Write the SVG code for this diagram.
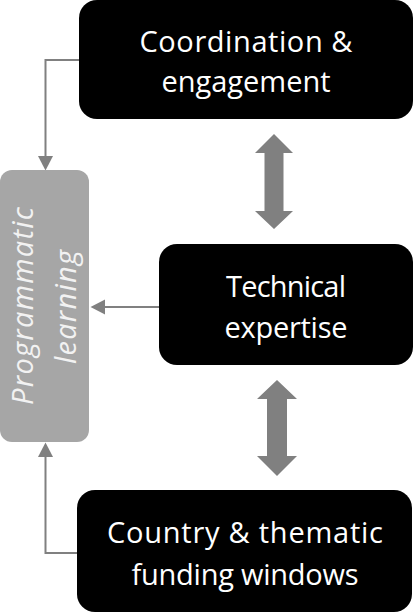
<svg xmlns="http://www.w3.org/2000/svg" width="416" height="614" viewBox="0 0 416 614">
<style>
.box{fill:#000000}
.side{fill:#a6a6a6}
.t{font-family:"Open Sans","Liberation Sans",sans-serif;font-size:29px;fill:#ffffff;text-anchor:middle}
.ti{font-family:"Open Sans","Liberation Sans",sans-serif;font-size:29px;font-style:italic;fill:#f2f2f2;text-anchor:middle}
.conn{fill:none;stroke:#808080;stroke-width:2}
.dbl{fill:#808080}
</style>
<defs>
<marker id="ah" markerUnits="userSpaceOnUse" markerWidth="16" markerHeight="16" refX="0" refY="7.5" orient="auto" viewBox="0 0 16 15">
<path d="M0,0 L14.5,7.5 L0,15 z" fill="#808080"/>
</marker>
</defs>
<g id="connectors">
<path class="conn" d="M79,60 H45.5 V156" marker-end="url(#ah)"/>
<path class="conn" d="M159,307 H105" marker-end="url(#ah)"/>
<path class="conn" d="M77,553 H45.5 V457" marker-end="url(#ah)"/>
<polygon class="dbl" points="274,134 293,153 283.5,153 283.5,211 293,211 274,229 255,211 264.5,211 264.5,153 255,153"/>
<polygon class="dbl" points="277,380 297,399 287,399 287,456 297,456 277,476 257,456 267,456 267,399 257,399"/>
</g>
<g id="coordination">
<rect class="box" x="79" y="0" width="334" height="119" rx="18"/>
<text class="t" x="246" y="52" textLength="213">Coordination &amp;</text>
<text class="t" x="246" y="92" textLength="169">engagement</text>
</g>
<g id="technical">
<rect class="box" x="159" y="244" width="254" height="121" rx="18"/>
<text class="t" x="286" y="297" textLength="120">Technical</text>
<text class="t" x="286" y="338" textLength="123">expertise</text>
</g>
<g id="country">
<rect class="box" x="77" y="490" width="335" height="122" rx="18"/>
<text class="t" x="245" y="543" textLength="276">Country &amp; thematic</text>
<text class="t" x="245" y="585" textLength="227">funding windows</text>
</g>
<g id="programmatic">
<rect class="side" x="0" y="170" width="89" height="272" rx="12"/>
<text class="ti" transform="translate(33,306) rotate(-90)" textLength="198">Programmatic</text>
<text class="ti" transform="translate(76,307) rotate(-90)" textLength="114">learning</text>
</g>
</svg>
